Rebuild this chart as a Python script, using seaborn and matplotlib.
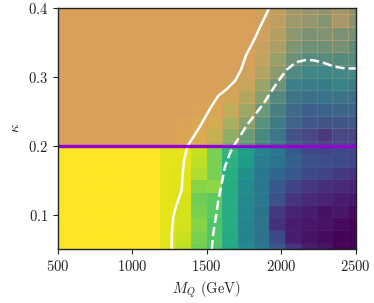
import numpy as np
import matplotlib
matplotlib.use("Agg")
import matplotlib.pyplot as plt
from matplotlib.colors import LinearSegmentedColormap
import seaborn as sns

# grid of the scan
mq_values = np.linspace(500, 2500, 20)
kappa_values = np.linspace(0.05, 0.4, 20)

# viridis quantity, one row per kappa value (bottom row first), clipped to [0, 1]
signal = [
    [1, 1, 1, 1, 1, 1, 1, 0.96, 0.90, 0.78, 0.72, 0.60, 0.48, 0.40, 0.28, 0.15, 0.08, 0.05, 0.01, 0.00],
    [1, 1, 1, 1, 1, 1, 1, 0.96, 0.92, 0.80, 0.73, 0.61, 0.45, 0.38, 0.22, 0.08, 0.05, 0.03, 0.01, 0.00],
    [1, 1, 1, 1, 1, 1, 1, 0.96, 0.93, 0.82, 0.72, 0.62, 0.45, 0.38, 0.14, 0.08, 0.06, 0.05, 0.03, 0.01],
    [1, 1, 1, 1, 1, 1, 1, 0.96, 0.93, 0.80, 0.74, 0.62, 0.46, 0.38, 0.16, 0.10, 0.08, 0.04, 0.06, 0.03],
    [1, 1, 1, 1, 1, 1, 1, 0.96, 0.94, 0.78, 0.75, 0.62, 0.47, 0.40, 0.25, 0.15, 0.12, 0.10, 0.08, 0.06],
    [1, 1, 1, 1, 1, 1, 1, 0.96, 0.95, 0.82, 0.83, 0.62, 0.48, 0.40, 0.28, 0.20, 0.16, 0.13, 0.12, 0.10],
    [1, 1, 1, 1, 1, 1, 1, 0.96, 0.95, 0.88, 0.79, 0.63, 0.50, 0.40, 0.33, 0.27, 0.22, 0.20, 0.17, 0.15],
    [1, 1, 1, 1, 1, 1, 1, 0.96, 0.96, 0.90, 0.80, 0.64, 0.55, 0.42, 0.38, 0.30, 0.25, 0.24, 0.22, 0.20],
    [1, 1, 1, 1, 1, 1, 1, 0.96, 0.96, 0.92, 0.80, 0.66, 0.56, 0.45, 0.40, 0.28, 0.22, 0.20, 0.22, 0.20],
    [1, 1, 1, 1, 1, 1, 1, 1.00, 1.00, 0.95, 0.85, 0.70, 0.55, 0.45, 0.38, 0.24, 0.20, 0.15, 0.20, 0.19],
    [1, 1, 1, 1, 1, 1, 1, 1.00, 1.00, 1.00, 0.90, 0.75, 0.60, 0.48, 0.40, 0.30, 0.26, 0.25, 0.25, 0.26],
    [1, 1, 1, 1, 1, 1, 1, 1.00, 1.00, 1.00, 0.95, 0.80, 0.65, 0.52, 0.40, 0.33, 0.29, 0.31, 0.31, 0.31],
    [1, 1, 1, 1, 1, 1, 1, 1.00, 1.00, 1.00, 0.95, 0.85, 0.70, 0.58, 0.43, 0.36, 0.34, 0.37, 0.37, 0.35],
    [1, 1, 1, 1, 1, 1, 1, 1.00, 1.00, 1.00, 0.95, 0.85, 0.75, 0.62, 0.48, 0.41, 0.41, 0.41, 0.44, 0.41],
    [1, 1, 1, 1, 1, 1, 1, 1.00, 1.00, 1.00, 0.95, 0.85, 0.75, 0.65, 0.53, 0.44, 0.44, 0.44, 0.45, 0.44],
    [1, 1, 1, 1, 1, 1, 1, 1.00, 1.00, 1.00, 0.95, 0.85, 0.75, 0.65, 0.56, 0.46, 0.45, 0.45, 0.45, 0.45],
    [1, 1, 1, 1, 1, 1, 1, 1.00, 1.00, 1.00, 0.95, 0.85, 0.75, 0.65, 0.56, 0.48, 0.46, 0.46, 0.46, 0.44],
    [1, 1, 1, 1, 1, 1, 1, 1.00, 1.00, 1.00, 0.95, 0.85, 0.75, 0.65, 0.56, 0.48, 0.46, 0.46, 0.46, 0.46],
    [1, 1, 1, 1, 1, 1, 1, 1.00, 1.00, 1.00, 0.95, 0.85, 0.75, 0.65, 0.56, 0.48, 0.46, 0.46, 0.46, 0.46],
    [1, 1, 1, 1, 1, 1, 1, 1.00, 1.00, 1.00, 0.95, 0.85, 0.75, 0.65, 0.56, 0.48, 0.46, 0.46, 0.46, 0.46],
]

# opacity of the orange shading above kappa = 0.2 (rows kappa_values[8:])
shade_alpha = [
    [1, 1, 1, 1, 1, 1, 1, 1, 0.90, 0.75, 0.60, 0.40, 0.30, 0.15, 0.10, 0.05, 0.05, 0.05, 0.05, 0.05],
    [1, 1, 1, 1, 1, 1, 1, 1, 0.92, 0.85, 0.70, 0.50, 0.40, 0.20, 0.10, 0.05, 0.05, 0.05, 0.05, 0.05],
    [1, 1, 1, 1, 1, 1, 1, 1, 0.95, 0.90, 0.82, 0.60, 0.55, 0.30, 0.12, 0.08, 0.05, 0.05, 0.05, 0.05],
    [1, 1, 1, 1, 1, 1, 1, 1, 1.00, 0.95, 0.90, 0.75, 0.65, 0.40, 0.18, 0.08, 0.06, 0.05, 0.06, 0.06],
    [1, 1, 1, 1, 1, 1, 1, 1, 1.00, 1.00, 0.95, 0.85, 0.75, 0.55, 0.28, 0.10, 0.08, 0.06, 0.08, 0.08],
    [1, 1, 1, 1, 1, 1, 1, 1, 1.00, 1.00, 1.00, 0.92, 0.85, 0.65, 0.42, 0.12, 0.10, 0.08, 0.10, 0.10],
    [1, 1, 1, 1, 1, 1, 1, 1, 1.00, 1.00, 1.00, 1.00, 0.92, 0.78, 0.58, 0.25, 0.16, 0.14, 0.16, 0.16],
    [1, 1, 1, 1, 1, 1, 1, 1, 1.00, 1.00, 1.00, 1.00, 1.00, 0.85, 0.65, 0.40, 0.26, 0.28, 0.26, 0.26],
    [1, 1, 1, 1, 1, 1, 1, 1, 1.00, 1.00, 1.00, 1.00, 1.00, 0.90, 0.75, 0.50, 0.42, 0.42, 0.46, 0.30],
    [1, 1, 1, 1, 1, 1, 1, 1, 1.00, 1.00, 1.00, 1.00, 1.00, 0.95, 0.80, 0.58, 0.48, 0.52, 0.48, 0.44],
    [1, 1, 1, 1, 1, 1, 1, 1, 1.00, 1.00, 1.00, 1.00, 1.00, 0.95, 0.85, 0.68, 0.62, 0.54, 0.72, 0.55],
    [1, 1, 1, 1, 1, 1, 1, 1, 1.00, 1.00, 1.00, 1.00, 1.00, 0.95, 0.85, 0.68, 0.62, 0.58, 0.68, 0.52],
]

# contour lines
solid_mq = [1265, 1265, 1276, 1294, 1332, 1339, 1348, 1370, 1455, 1529, 1576, 1634, 1690, 1730, 1764, 1817, 1858, 1903, 1918]
solid_kappa = [0.05, 0.073, 0.097, 0.112, 0.136, 0.16, 0.179, 0.199, 0.228, 0.256, 0.272, 0.282, 0.294, 0.31, 0.331, 0.353, 0.372, 0.392, 0.40]
dashed_mq = [1534, 1544, 1562, 1578, 1601, 1623, 1656, 1679, 1777, 1878, 1968, 2036, 2099, 2160, 2213, 2274, 2350, 2428, 2502]
dashed_kappa = [0.05, 0.073, 0.097, 0.121, 0.146, 0.17, 0.189, 0.199, 0.232, 0.26, 0.29, 0.31, 0.321, 0.324, 0.324, 0.321, 0.315, 0.312, 0.312]

kappa_cut = 0.2

sns.set_style("ticks")
plt.rcParams["font.family"] = "serif"
plt.rcParams["font.serif"] = ["cmr10", "DejaVu Serif"]
plt.rcParams["mathtext.fontset"] = "cm"
plt.rcParams["axes.formatter.use_mathtext"] = True

fig = plt.figure(figsize=(3.74, 3.03), dpi=100)
ax = fig.add_axes([0.1543, 0.1775, 0.7968, 0.797])

ax.pcolormesh(mq_values, kappa_values, np.array(signal), cmap="viridis",
              vmin=0, vmax=1, shading="nearest",
              edgecolors=(1, 1, 1, 0.03), linewidth=0.4)

# orange shading, cut at kappa = 0.2
dx = mq_values[1] - mq_values[0]
dk = kappa_values[1] - kappa_values[0]
mq_edges = np.concatenate([[mq_values[0] - dx / 2], (mq_values[:-1] + mq_values[1:]) / 2, [mq_values[-1] + dx / 2]])
up = kappa_values[8:]
kappa_edges = np.concatenate([[kappa_cut], (up[:-1] + up[1:]) / 2, [up[-1] + dk / 2]])
orange = (0.851, 0.627, 0.357)
orange_cmap = LinearSegmentedColormap.from_list("orange_alpha", [orange + (0.0,), orange + (1.0,)])
ax.pcolormesh(mq_edges, kappa_edges, np.array(shade_alpha), cmap=orange_cmap,
              vmin=0, vmax=1, shading="flat",
              edgecolors=(1, 1, 1, 0.02), linewidth=0.4)

sns.lineplot(x=solid_mq, y=solid_kappa, sort=False, estimator=None, color="white", lw=1.8, ax=ax)
sns.lineplot(x=dashed_mq, y=dashed_kappa, sort=False, estimator=None, color="white", lw=1.8,
             linestyle="--", ax=ax)
ax.axhline(kappa_cut, color="darkviolet", lw=2.4)

ax.set_xlim(500, 2500)
ax.set_ylim(0.05, 0.4)
ax.set_xticks([500, 1000, 1500, 2000, 2500])
ax.set_yticks([0.1, 0.2, 0.3, 0.4])
ax.tick_params(labelsize=10.5, length=3.5, width=0.8, colors="#222222")
ax.set_xlabel(r"$M_Q$ (GeV)", fontsize=10.5)
ax.set_ylabel(r"$\kappa$", fontsize=10.5)
for s in ax.spines.values():
    s.set_linewidth(1.0)
    s.set_color("#222222")

fig.savefig("out.png", dpi=100)
